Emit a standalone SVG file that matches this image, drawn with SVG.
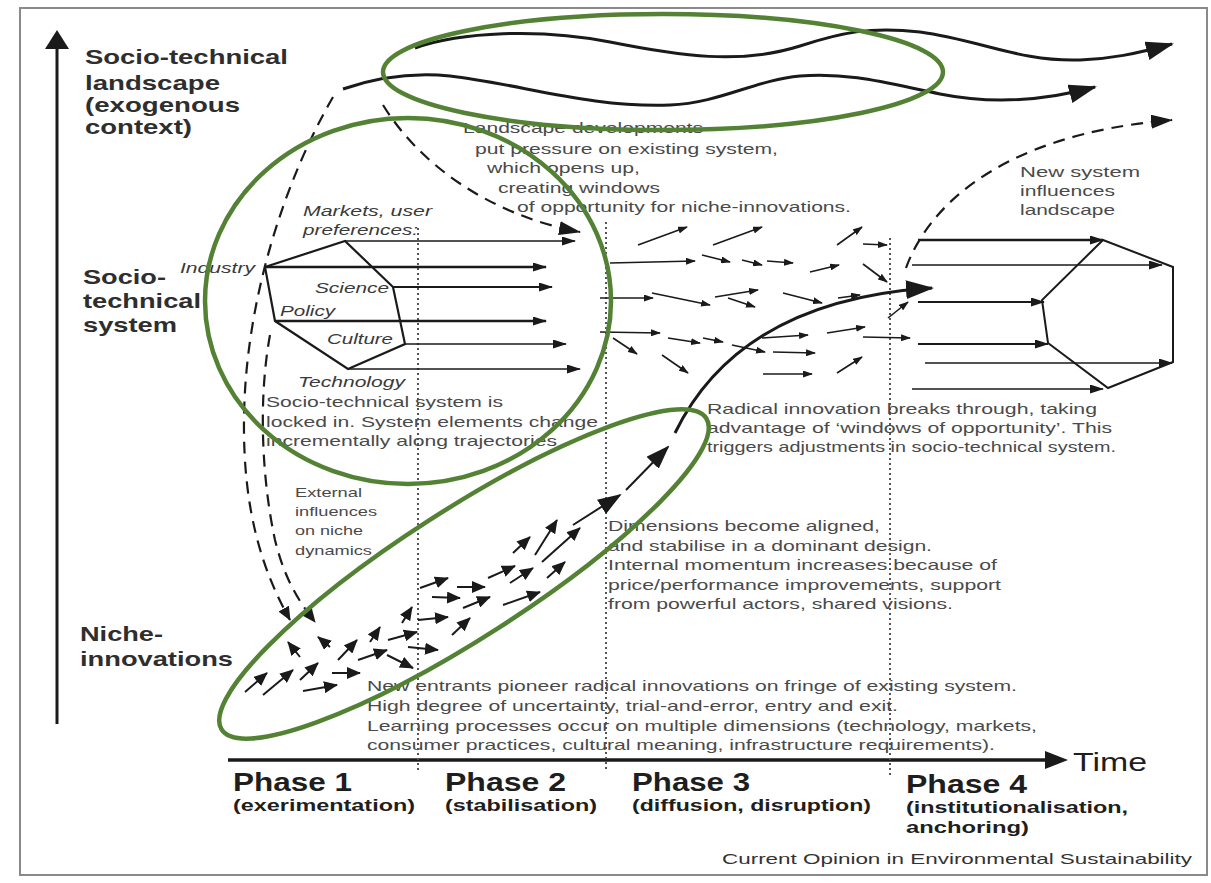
<svg xmlns="http://www.w3.org/2000/svg" width="1211" height="883" viewBox="0 0 1211 883">
<style>
text{font-family:"Liberation Sans",Arial,Helvetica,sans-serif}
.ax{font-weight:bold;font-size:21px;fill:#2e2e2e}
.it{font-style:italic;font-size:15px;fill:#3a3a3a}
.tx{font-size:15px;fill:#4a4a4a}
.sm{font-size:13px;fill:#4a4a4a}
.ph{font-weight:bold;font-size:25px;fill:#1e1e1e}
.ps{font-weight:bold;font-size:17px;fill:#1e1e1e}
.tm{font-size:26px;fill:#1e1e1e}
.cr{font-size:15px;fill:#333}
.ln{stroke:#1a1a1a;fill:none;stroke-width:1.6}
.md{stroke-width:2}
.th{stroke-width:2.6}
.w3{stroke-width:3}
.dash{stroke:#1a1a1a;fill:none;stroke-dasharray:12 8;stroke-width:2.2}
.dot{stroke:#555;stroke-width:2;stroke-dasharray:2 3;fill:none}
.grn{fill:none;stroke:#548235;stroke-width:4.5}
.hd{fill:#1a1a1a}
</style>
<defs>
<marker id="hs" viewBox="0 0 10 7" refX="9" refY="3.5" markerWidth="10" markerHeight="7" markerUnits="userSpaceOnUse" orient="auto"><path class="hd" d="M0,0L10,3.5L0,7z"/></marker>
<marker id="hn" viewBox="0 0 14 12" refX="13" refY="6" markerWidth="14" markerHeight="12" markerUnits="userSpaceOnUse" orient="auto"><path class="hd" d="M0,0L14,6L0,12z"/></marker>
<marker id="hm" viewBox="0 0 14 9" refX="13" refY="4.5" markerWidth="14" markerHeight="9" markerUnits="userSpaceOnUse" orient="auto"><path class="hd" d="M0,0L14,4.5L0,9z"/></marker>
<marker id="hd2" viewBox="0 0 22 14" refX="21" refY="7" markerWidth="22" markerHeight="14" markerUnits="userSpaceOnUse" orient="auto"><path class="hd" d="M0,0L22,7L0,14z"/></marker>
<marker id="hl" viewBox="0 0 28 19" refX="26" refY="9.5" markerWidth="28" markerHeight="19" markerUnits="userSpaceOnUse" orient="auto"><path class="hd" d="M0,0L28,9.5L0,19z"/></marker>
<marker id="ht" viewBox="0 0 24 17" refX="22" refY="8.5" markerWidth="24" markerHeight="17" markerUnits="userSpaceOnUse" orient="auto"><path class="hd" d="M0,0L24,8.5L0,17z"/></marker>
</defs>
<rect width="1211" height="883" fill="#fff"/>
<rect id="frame" x="20" y="8" width="1187" height="867" fill="none" stroke="#8a8a8a" stroke-width="2"/>

<g id="axes">
<line x1="57" y1="724" x2="57" y2="46" stroke="#1a1a1a" stroke-width="3"/>
<polygon class="hd" points="57,30 45,49 69,49"/>
<line x1="228" y1="760" x2="1050" y2="760" stroke="#1a1a1a" stroke-width="3.5"/>
<polygon class="hd" points="1068,760 1045,751 1045,769"/>
<text class="tm" x="1073" y="771" textLength="74" lengthAdjust="spacingAndGlyphs">Time</text>
</g>

<g id="phase-dividers">
<line class="dot" x1="418" y1="228" x2="418" y2="770"/>
<line class="dot" x1="606" y1="222" x2="606" y2="772"/>
<line class="dot" x1="890" y1="238" x2="890" y2="775"/>
</g>

<g id="level-labels">
<text class="ax" x="85" y="64" textLength="203" lengthAdjust="spacingAndGlyphs">Socio-technical</text>
<text class="ax" x="85" y="90" textLength="135" lengthAdjust="spacingAndGlyphs">landscape</text>
<text class="ax" x="85" y="112" textLength="155" lengthAdjust="spacingAndGlyphs">(exogenous</text>
<text class="ax" x="85" y="134" textLength="107" lengthAdjust="spacingAndGlyphs">context)</text>
<text class="ax" x="83" y="284" textLength="83" lengthAdjust="spacingAndGlyphs">Socio-</text>
<text class="ax" x="83" y="308" textLength="118" lengthAdjust="spacingAndGlyphs">technical</text>
<text class="ax" x="83" y="332" textLength="94" lengthAdjust="spacingAndGlyphs">system</text>
<text class="ax" x="80" y="641" textLength="83" lengthAdjust="spacingAndGlyphs">Niche-</text>
<text class="ax" x="80" y="666" textLength="153" lengthAdjust="spacingAndGlyphs">innovations</text>
</g>

<g id="phases">
<text class="ph" x="233" y="791" textLength="119" lengthAdjust="spacingAndGlyphs">Phase 1</text>
<text class="ps" x="233" y="811" textLength="182" lengthAdjust="spacingAndGlyphs">(exerimentation)</text>
<text class="ph" x="445" y="791" textLength="121" lengthAdjust="spacingAndGlyphs">Phase 2</text>
<text class="ps" x="445" y="811" textLength="152" lengthAdjust="spacingAndGlyphs">(stabilisation)</text>
<text class="ph" x="632" y="791" textLength="118" lengthAdjust="spacingAndGlyphs">Phase 3</text>
<text class="ps" x="632" y="811" textLength="239" lengthAdjust="spacingAndGlyphs">(diffusion, disruption)</text>
<text class="ph" x="906" y="793" textLength="121" lengthAdjust="spacingAndGlyphs">Phase 4</text>
<text class="ps" x="906" y="813" textLength="222" lengthAdjust="spacingAndGlyphs">(institutionalisation,</text>
<text class="ps" x="906" y="833" textLength="123" lengthAdjust="spacingAndGlyphs">anchoring)</text>
<text class="cr" x="722" y="864" textLength="470" lengthAdjust="spacingAndGlyphs">Current Opinion in Environmental Sustainability</text>
</g>

<g id="landscape-trends">
<path class="ln w3" marker-end="url(#hl)" d="M415,48 C460,32 540,28 610,42 C680,56 740,65 800,46 C840,33 870,26 920,32 C980,40 1020,62 1080,60 C1110,59 1135,54 1172,44"/>
<path class="ln w3" marker-end="url(#hl)" d="M343,89 C375,78 410,72 450,76 C520,84 590,108 670,105 C720,103 755,80 800,76 C850,72 890,84 940,94 C990,104 1040,102 1095,87"/>
</g>

<g id="landscape-text">
<text class="tx" x="463" y="133" textLength="240" lengthAdjust="spacingAndGlyphs">Landscape developments</text>
<text class="tx" x="475" y="154" textLength="303" lengthAdjust="spacingAndGlyphs">put pressure on existing system,</text>
<text class="tx" x="487" y="173" textLength="153" lengthAdjust="spacingAndGlyphs">which opens up,</text>
<text class="tx" x="498" y="193" textLength="162" lengthAdjust="spacingAndGlyphs">creating windows</text>
<text class="tx" x="517" y="212" textLength="334" lengthAdjust="spacingAndGlyphs">of opportunity for niche-innovations.</text>
<text class="tx" x="1020" y="177" textLength="120" lengthAdjust="spacingAndGlyphs">New  system</text>
<text class="tx" x="1020" y="196" textLength="95" lengthAdjust="spacingAndGlyphs">influences</text>
<text class="tx" x="1020" y="215" textLength="95" lengthAdjust="spacingAndGlyphs">landscape</text>
</g>

<g id="regime-left">
<polygon fill="none" stroke="#1a1a1a" stroke-width="2.2" points="265,267 345,241 393,287 405,344 348,369 275,321"/>
<text class="it" x="303" y="216" textLength="129" lengthAdjust="spacingAndGlyphs">Markets, user</text>
<text class="it" x="303" y="235" textLength="115" lengthAdjust="spacingAndGlyphs">preferences:</text>
<text class="it" x="180" y="273" textLength="75" lengthAdjust="spacingAndGlyphs">Industry</text>
<text class="it" x="315" y="293" textLength="74" lengthAdjust="spacingAndGlyphs">Science</text>
<text class="it" x="280" y="316" textLength="55" lengthAdjust="spacingAndGlyphs">Policy</text>
<text class="it" x="327" y="344" textLength="66" lengthAdjust="spacingAndGlyphs">Culture</text>
<text class="it" x="298" y="387" textLength="107" lengthAdjust="spacingAndGlyphs">Technology</text>
<text class="tx" x="266" y="407" textLength="237" lengthAdjust="spacingAndGlyphs">Socio-technical system is</text>
<text class="tx" x="266" y="427" textLength="332" lengthAdjust="spacingAndGlyphs">locked in. System elements change</text>
<text class="tx" x="266" y="446" textLength="291" lengthAdjust="spacingAndGlyphs">incrementally along trajectories</text>
</g>

<g id="regime-right">
<polygon fill="none" stroke="#1a1a1a" stroke-width="2" points="1103,240 1173,267 1173,362 1108,388 1048,343 1042,300"/>
<text class="tx" x="707" y="414" textLength="390" lengthAdjust="spacingAndGlyphs">Radical innovation breaks through, taking</text>
<text class="tx" x="707" y="433" textLength="405" lengthAdjust="spacingAndGlyphs">advantage of ‘windows of opportunity’. This</text>
<text class="tx" x="707" y="452" textLength="409" lengthAdjust="spacingAndGlyphs">triggers adjustments in socio-technical system.</text>
</g>

<g id="niche-text">
<text class="sm" x="295" y="497" textLength="67" lengthAdjust="spacingAndGlyphs">External</text>
<text class="sm" x="295" y="516" textLength="82" lengthAdjust="spacingAndGlyphs">influences</text>
<text class="sm" x="295" y="535" textLength="68" lengthAdjust="spacingAndGlyphs">on niche</text>
<text class="sm" x="295" y="555" textLength="77" lengthAdjust="spacingAndGlyphs">dynamics</text>
<text class="tx" x="608" y="531" textLength="272" lengthAdjust="spacingAndGlyphs">Dimensions become aligned,</text>
<text class="tx" x="608" y="551" textLength="324" lengthAdjust="spacingAndGlyphs">and stabilise in a dominant design.</text>
<text class="tx" x="608" y="570" textLength="389" lengthAdjust="spacingAndGlyphs">Internal momentum increases because of</text>
<text class="tx" x="608" y="590" textLength="393" lengthAdjust="spacingAndGlyphs">price/performance improvements, support</text>
<text class="tx" x="608" y="609" textLength="345" lengthAdjust="spacingAndGlyphs">from powerful actors, shared visions.</text>
<text class="tx" x="367" y="691" textLength="650" lengthAdjust="spacingAndGlyphs">New entrants pioneer radical innovations on fringe of existing system.</text>
<text class="tx" x="367" y="711" textLength="531" lengthAdjust="spacingAndGlyphs">High degree of uncertainty, trial-and-error, entry and exit.</text>
<text class="tx" x="367" y="731" textLength="670" lengthAdjust="spacingAndGlyphs">Learning processes occur on multiple dimensions (technology, markets,</text>
<text class="tx" x="367" y="750" textLength="628" lengthAdjust="spacingAndGlyphs">consumer practices, cultural meaning, infrastructure requirements).</text>
</g>

<g id="connectors">
<path class="dash" marker-end="url(#hn)" d="M333,97 C285,180 245,300 244,420 C243,510 262,570 290,620"/>
<path class="dash" marker-end="url(#hn)" d="M270,335 C258,400 262,480 275,540 C285,580 298,600 315,622"/>
<path class="dash" marker-end="url(#hd2)" d="M383,105 C420,165 490,215 580,232"/>
<path class="dash" marker-end="url(#hd2)" d="M906,268 C925,215 990,135 1172,120"/>
<line class="ln" marker-end="url(#hm)" x1="345" y1="241" x2="575" y2="241"/>
<line class="ln th" marker-end="url(#hm)" x1="265" y1="267" x2="546" y2="267"/>
<line class="ln md" marker-end="url(#hm)" x1="393" y1="287" x2="552" y2="287"/>
<line class="ln th" marker-end="url(#hm)" x1="275" y1="321" x2="546" y2="321"/>
<line class="ln" marker-end="url(#hm)" x1="405" y1="344" x2="566" y2="344"/>
<line class="ln" marker-end="url(#hm)" x1="348" y1="369" x2="580" y2="369"/>
<line class="ln th" marker-end="url(#hm)" x1="918" y1="240" x2="1103" y2="240"/>
<line class="ln" marker-end="url(#hm)" x1="912" y1="265" x2="1162" y2="265"/>
<line class="ln md" marker-end="url(#hm)" x1="918" y1="302" x2="1044" y2="302"/>
<line class="ln md" marker-end="url(#hm)" x1="918" y1="344" x2="1048" y2="344"/>
<line class="ln" marker-end="url(#hm)" x1="925" y1="363" x2="1172" y2="363"/>
<line class="ln" marker-end="url(#hm)" x1="912" y1="389" x2="1103" y2="389"/>
<g class="ln">
<line x1="638" y1="245" x2="687" y2="227" marker-end="url(#hs)"/>
<line x1="713" y1="245" x2="762" y2="227" marker-end="url(#hs)"/>
<line x1="837" y1="245" x2="862" y2="227" marker-end="url(#hs)"/>
<line x1="863" y1="244" x2="887" y2="245" marker-end="url(#hs)"/>
<line x1="610" y1="263" x2="695" y2="261" marker-end="url(#hs)"/>
<line x1="702" y1="255" x2="730" y2="262" marker-end="url(#hs)"/>
<line x1="742" y1="260" x2="762" y2="265" marker-end="url(#hs)"/>
<line x1="767" y1="261" x2="793" y2="263" marker-end="url(#hs)"/>
<line x1="810" y1="272" x2="839" y2="265" marker-end="url(#hs)"/>
<line x1="863" y1="264" x2="887" y2="282" marker-end="url(#hs)"/>
<line x1="600" y1="298" x2="653" y2="298" marker-end="url(#hs)"/>
<line x1="652" y1="293" x2="710" y2="305" marker-end="url(#hs)"/>
<line x1="715" y1="297" x2="758" y2="290" marker-end="url(#hs)"/>
<line x1="728" y1="298" x2="755" y2="307" marker-end="url(#hs)"/>
<line x1="783" y1="293" x2="822" y2="303" marker-end="url(#hs)"/>
<line x1="838" y1="298" x2="860" y2="295" marker-end="url(#hs)"/>
<line x1="600" y1="332" x2="660" y2="333" marker-end="url(#hs)"/>
<line x1="613" y1="338" x2="637" y2="354" marker-end="url(#hs)"/>
<line x1="668" y1="338" x2="700" y2="343" marker-end="url(#hs)"/>
<line x1="703" y1="338" x2="723" y2="342" marker-end="url(#hs)"/>
<line x1="732" y1="345" x2="765" y2="352" marker-end="url(#hs)"/>
<line x1="773" y1="352" x2="815" y2="353" marker-end="url(#hs)"/>
<line x1="762" y1="338" x2="808" y2="335" marker-end="url(#hs)"/>
<line x1="827" y1="333" x2="865" y2="327" marker-end="url(#hs)"/>
<line x1="662" y1="355" x2="688" y2="373" marker-end="url(#hs)"/>
<line x1="763" y1="374" x2="812" y2="374" marker-end="url(#hs)"/>
<line x1="837" y1="373" x2="862" y2="357" marker-end="url(#hs)"/>
<line x1="863" y1="337" x2="910" y2="338" marker-end="url(#hs)"/>
<line x1="888" y1="318" x2="908" y2="302" marker-end="url(#hs)"/>
</g>
<g class="ln md">
<line x1="245" y1="692" x2="267" y2="673" marker-end="url(#hn)"/>
<line x1="263" y1="695" x2="293" y2="670" marker-end="url(#hn)"/>
<line x1="300" y1="680" x2="318" y2="663" marker-end="url(#hn)"/>
<line x1="303" y1="691" x2="337" y2="685" marker-end="url(#hn)"/>
<line x1="332" y1="673" x2="360" y2="673" marker-end="url(#hn)"/>
<line x1="338" y1="660" x2="357" y2="640" marker-end="url(#hn)"/>
<line x1="358" y1="660" x2="387" y2="650" marker-end="url(#hn)"/>
<line x1="387" y1="655" x2="413" y2="668" marker-end="url(#hn)"/>
<line x1="370" y1="642" x2="380" y2="627" marker-end="url(#hn)"/>
<line x1="388" y1="640" x2="417" y2="632" marker-end="url(#hn)"/>
<line x1="402" y1="623" x2="412" y2="607" marker-end="url(#hn)"/>
<line x1="418" y1="620" x2="448" y2="617" marker-end="url(#hn)"/>
<line x1="408" y1="647" x2="438" y2="650" marker-end="url(#hn)"/>
<line x1="452" y1="635" x2="470" y2="618" marker-end="url(#hn)"/>
<line x1="420" y1="588" x2="448" y2="578" marker-end="url(#hn)"/>
<line x1="432" y1="597" x2="460" y2="598" marker-end="url(#hn)"/>
<line x1="457" y1="587" x2="485" y2="587" marker-end="url(#hn)"/>
<line x1="463" y1="608" x2="490" y2="597" marker-end="url(#hn)"/>
<line x1="488" y1="578" x2="515" y2="566" marker-end="url(#hn)"/>
<line x1="510" y1="583" x2="533" y2="568" marker-end="url(#hn)"/>
<line x1="503" y1="605" x2="540" y2="592" marker-end="url(#hn)"/>
<line x1="547" y1="578" x2="565" y2="562" marker-end="url(#hn)"/>
<line x1="513" y1="553" x2="530" y2="537" marker-end="url(#hn)"/>
<line x1="535" y1="555" x2="557" y2="520" marker-end="url(#hn)"/>
<line x1="542" y1="562" x2="580" y2="528" marker-end="url(#hn)"/>
<line x1="300" y1="657" x2="288" y2="642" marker-end="url(#hn)"/>
<line x1="330" y1="647" x2="318" y2="637" marker-end="url(#hn)"/>
</g>
<line class="ln md" marker-end="url(#ht)" x1="573" y1="525" x2="620" y2="495"/>
<line class="ln md" marker-end="url(#ht)" x1="626" y1="490" x2="668" y2="447"/>
<path class="ln w3" marker-end="url(#hl)" d="M675,433 Q740,300 932,288"/>
</g>

<g id="highlights">
<ellipse class="grn" cx="663" cy="72" rx="280" ry="58"/>
<ellipse class="grn" cx="408" cy="301" rx="203" ry="183"/>
<ellipse class="grn" cx="464" cy="574" rx="288" ry="64" transform="rotate(-32.7 464 574)"/>
</g>
</svg>
